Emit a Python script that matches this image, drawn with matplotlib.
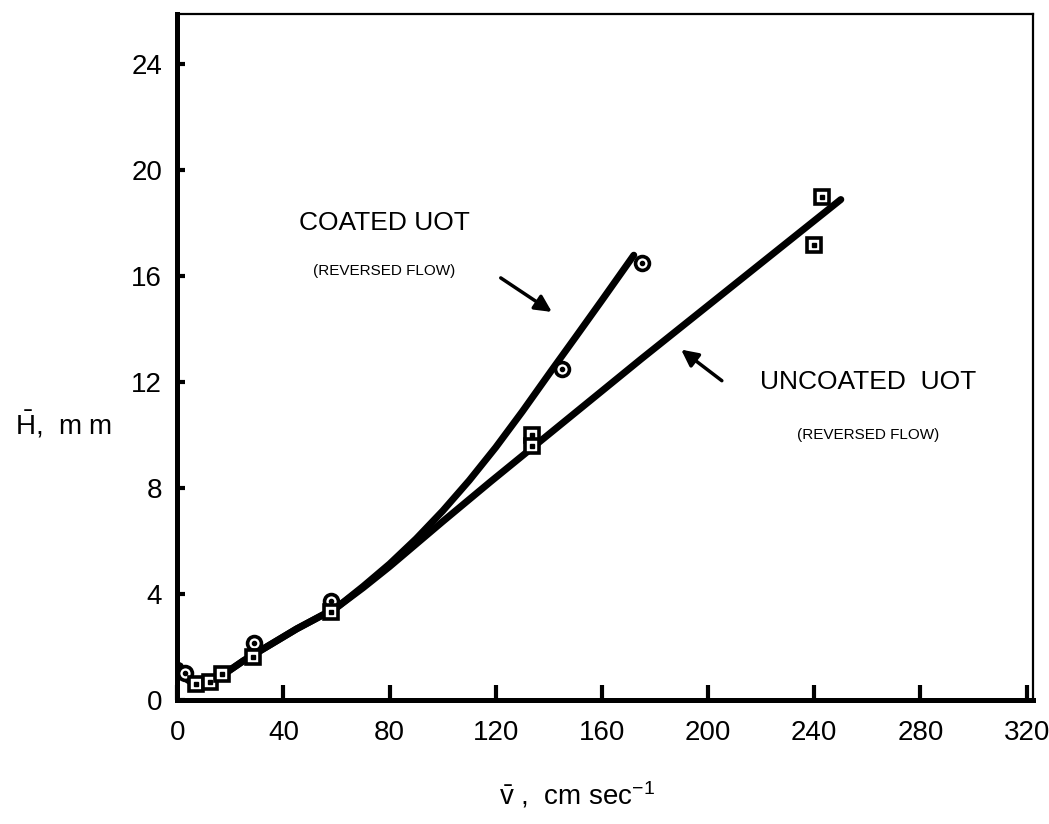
import numpy as np
import matplotlib.pyplot as plt

plt.rcParams['font.family'] = ['Liberation Sans', 'DejaVu Sans']
plt.rcParams['mathtext.fontset'] = 'custom'
plt.rcParams['mathtext.rm'] = 'Liberation Sans'
plt.rcParams['mathtext.it'] = 'Liberation Sans:italic'

# DATA
coated_v = [3, 29, 58, 145, 175]
coated_h = [1.05, 2.15, 3.75, 12.5, 16.5]

uncoated_v = [7, 12.5, 17, 28.5, 58, 133.5, 133.5, 240, 243]
uncoated_h = [0.6, 0.7, 1.0, 1.65, 3.35, 10.0, 9.6, 17.2, 19.0]

# hand-drawn fit curves
coated_curve_v = [1, 3, 7, 12, 17, 25, 35, 45, 60, 70, 80, 90, 100, 110, 120, 130, 141, 150, 160, 172]
coated_curve_h = [1.3, 0.85, 0.55, 0.65, 0.95, 1.5, 2.1, 2.7, 3.5, 4.3, 5.15, 6.1, 7.15, 8.3, 9.55, 10.9, 12.45, 13.7, 15.1, 16.8]

uncoated_curve_v = [1, 3, 7, 12, 17, 25, 35, 45, 60, 70, 80, 90, 100, 118, 137, 175, 250]
uncoated_curve_h = [1.3, 0.85, 0.55, 0.65, 0.95, 1.5, 2.1, 2.7, 3.5, 4.25, 5.05, 5.9, 6.75, 8.25, 9.8, 12.9, 18.9]

xticks = [0, 40, 80, 120, 160, 200, 240, 280, 320]
yticks = [0, 4, 8, 12, 16, 20, 24]

fig = plt.figure(figsize=(10.49, 8.24), dpi=100)
ax = fig.add_axes([0.169, 0.150, 0.816, 0.833])

ax.plot(coated_curve_v, coated_curve_h, color='black', lw=5, solid_joinstyle='round', solid_capstyle='round')
ax.plot(uncoated_curve_v, uncoated_curve_h, color='black', lw=5, solid_joinstyle='round', solid_capstyle='round')

ax.plot(coated_v, coated_h, 'o', ms=10, mfc='white', mec='black', mew=2.6, zorder=5)
ax.plot(coated_v, coated_h, 'o', ms=3, color='black', zorder=6)
ax.plot(uncoated_v, uncoated_h, 's', ms=10, mfc='white', mec='black', mew=2.6, zorder=5)
ax.plot(uncoated_v, uncoated_h, 's', ms=2.6, color='black', zorder=6)

# annotations
ax.text(45.8, 18.0, 'COATED UOT', fontsize=19, va='center', ha='left')
ax.text(51, 16.2, '(REVERSED FLOW)', fontsize=11, va='center', ha='left')
ax.annotate('', xy=(142, 14.6), xytext=(121, 16.0),
            arrowprops=dict(arrowstyle='-|>', color='black', lw=2.5, mutation_scale=25))
ax.text(219.7, 12.0, 'UNCOATED  UOT', fontsize=19, va='center', ha='left')
ax.text(233.6, 10.0, '(REVERSED FLOW)', fontsize=11, va='center', ha='left')
ax.annotate('', xy=(189, 13.3), xytext=(206, 12.0),
            arrowprops=dict(arrowstyle='-|>', color='black', lw=2.5, mutation_scale=25))

ax.set_xlim(0, 322.5)
ax.set_ylim(0, 25.9)
ax.set_xticks(xticks)
ax.set_yticks(yticks)
ax.tick_params(axis='x', direction='in', length=11, width=3, pad=14, labelsize=20)
ax.tick_params(axis='y', direction='in', length=6, width=3, pad=11, labelsize=20)

ax.spines['left'].set_linewidth(3.6)
ax.spines['bottom'].set_linewidth(3.6)
ax.spines['top'].set_linewidth(1.6)
ax.spines['right'].set_linewidth(1.6)

fig.text(0.014, 0.484, '$\\bar{\\mathrm{H}}$,  m m', fontsize=20, va='center', ha='left')
fig.text(0.55, 0.035, '$\\bar{\\mathrm{v}}$ ,  cm sec$^{-1}$', fontsize=20, va='center', ha='center')

fig.savefig('out.png', dpi=100)
